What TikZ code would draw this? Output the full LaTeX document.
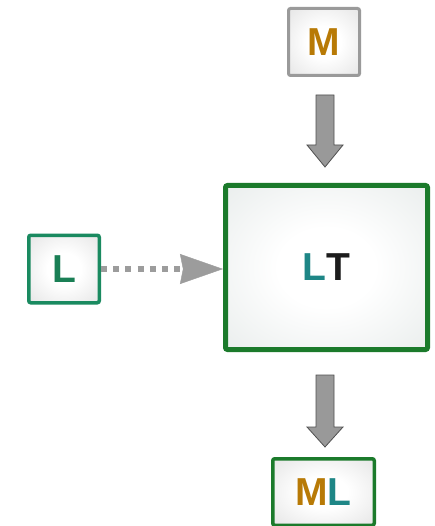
\documentclass[tikz,border=0pt]{standalone}
\usepackage{fontspec}
\setmainfont{Liberation Sans}
\usetikzlibrary{arrows.meta,calc}

% palette
\definecolor{graybd}{HTML}{9A9A9A}
\definecolor{greenbd}{HTML}{1B7A2B}
\definecolor{tealbd}{HTML}{1A8A60}
\definecolor{orangeM}{HTML}{B87A06}
\definecolor{tealL}{HTML}{1E8686}
\definecolor{greenL}{HTML}{1A7F55}
\definecolor{darkT}{HTML}{1C1C1C}
\definecolor{arrowfill}{HTML}{999999}
\definecolor{arrowline}{HTML}{505050}
\definecolor{dotgray}{HTML}{9C9C9C}
\definecolor{edgegray}{HTML}{D6D6D6}
\definecolor{edgemint}{HTML}{DDE3E2}

% soft radial fills for the boxes
\pgfdeclareradialshading{softgray}{\pgfpoint{0bp}{0bp}}{color(0bp)=(white); color(12bp)=(white); color(50bp)=(edgegray); color(72bp)=(edgegray)}
\pgfdeclareradialshading{softmint}{\pgfpoint{0bp}{0bp}}{color(0bp)=(white); color(12bp)=(white); color(50bp)=(edgemint); color(72bp)=(edgemint)}

\tikzset{
  box/.style={rectangle, rounded corners=2pt, inner sep=0pt,
    font=\bfseries\fontsize{39}{42}\selectfont},
  blockarrow/.style={fill=arrowfill, draw=arrowline, line width=0.8pt, line join=miter},
  dotline/.style={draw=dotgray, line width=6pt, dash pattern=on 6pt off 6.2pt,
    -{Stealth[length=43pt,width=30pt,inset=3pt,line width=0.4pt]}}
}

% downward block arrow: #1 top of shaft, #2 tip, #3 head length
\newcommand\blockdown[3]{%
  \draw[blockarrow] ($(#1)+(-9,0)$) -- ($(#1)+(9,0)$) -- ($(#2)+(9,-#3)$)
    -- ($(#2)+(18,-#3)$) -- (#2) -- ($(#2)+(-18,-#3)$) -- ($(#2)+(-9,-#3)$) -- cycle;}

\begin{document}
\begin{tikzpicture}[x=1pt,y=-1pt]
\useasboundingbox (0,0) rectangle (435,526);

\node[box, draw=graybd, line width=3pt, minimum width=71pt, minimum height=67pt,
  shading=softgray] (M) at (324,42) {\textcolor{orangeM}{M}};

\node[box, draw=tealbd, line width=3.5pt, minimum width=70.5pt, minimum height=67.5pt,
  shading=softgray] (L) at (64,269) {\textcolor{greenL}{L}};

\node[box, draw=greenbd, line width=5pt, minimum width=202pt, minimum height=164pt,
  shading=softmint] (LT) at (326.5,267.5) {\textcolor{tealL}{L}\textcolor{darkT}{T}};

\node[box, draw=greenbd, line width=3.5pt, minimum width=101.5pt, minimum height=66.5pt,
  shading=softgray] (ML) at (323.5,492) {\textcolor{orangeM}{M}\textcolor{tealL}{L}};

% block arrows
\coordinate (a1s) at ($(M.south)+(1,18)$);
\coordinate (a1t) at ($(a1s |- LT.north)+(0,-16)$);
\blockdown{a1s}{a1t}{22}

\coordinate (a2s) at ($(a1s |- LT.south)+(0,23)$);
\coordinate (a2t) at ($(a2s |- ML.north)+(0,-10)$);
\blockdown{a2s}{a2t}{20}

% dotted link
\draw[dotline] (L.east) -- (L.east -| LT.west);
\end{tikzpicture}
\end{document}
